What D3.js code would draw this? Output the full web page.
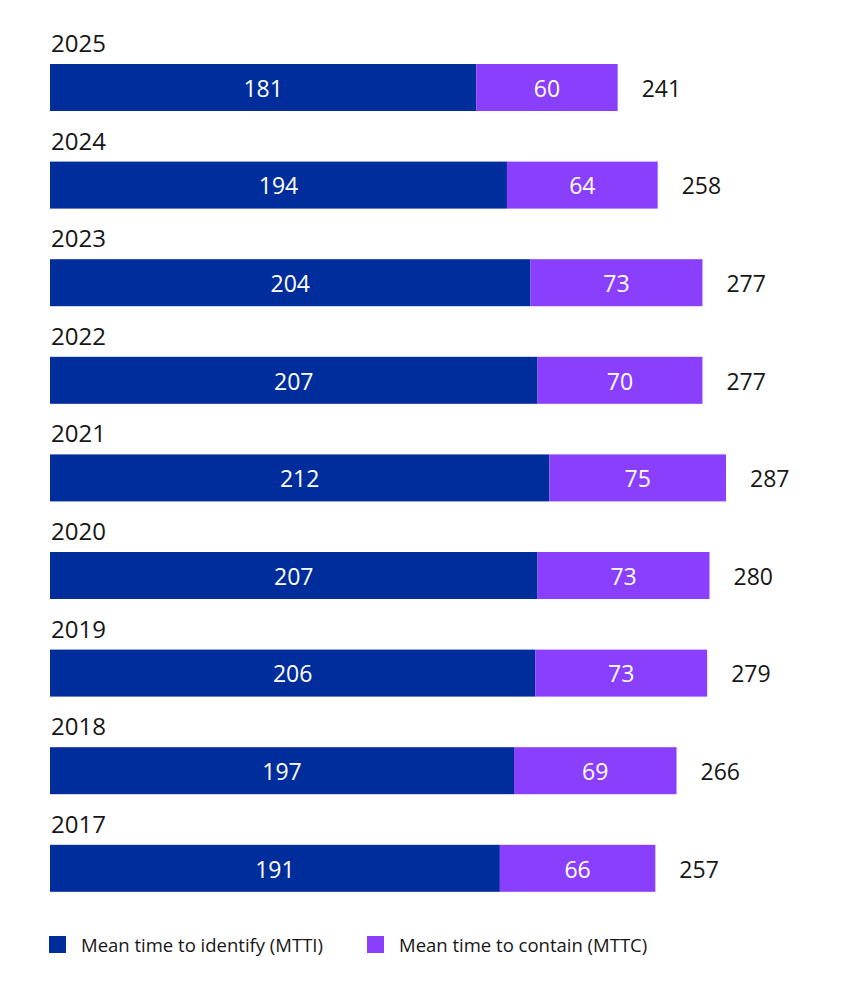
<!DOCTYPE html>
<html><head><meta charset="utf-8">
<script src="https://cdn.jsdelivr.net/npm/d3@7"></script>
<style>body{margin:0;background:#fff}svg{display:block}text{font-family:"Open Sans",sans-serif}</style>
</head><body>
<script>
const years = ["2025","2024","2023","2022","2021","2020","2019","2018","2017"];
const mtti = [181,194,204,207,212,207,206,197,191];
const mttc = [60,64,73,70,75,73,73,69,66];
const seriesNames = ["Mean time to identify (MTTI)","Mean time to contain (MTTC)"];
const colors = ["#002d9c","#8a3ffc"];

const W=849,H=1005;
const svg=d3.select("body").append("svg").attr("width",W).attr("height",H);
const x=d3.scaleLinear().domain([0,287]).range([50,726]);
const step=97.6, bh=47;
const data=years.map((yr,i)=>({yr,a:mtti[i],b:mttc[i],t:mtti[i]+mttc[i]}));
const g=svg.append("g");
const row=g.selectAll("g").data(data).join("g").attr("transform",d=>`translate(0,${64+years.indexOf(d.yr)*step})`);
row.append("text").attr("x",51).attr("y",-12).attr("font-size",24).attr("fill","#161616").text(d=>d.yr);
row.append("rect").attr("x",x(0)).attr("y",0).attr("width",d=>x(d.a)-x(0)).attr("height",bh).attr("fill",colors[0]);
row.append("rect").attr("x",d=>x(d.a)).attr("y",0).attr("width",d=>x(d.t)-x(d.a)).attr("height",bh).attr("fill",colors[1]);
row.append("text").attr("x",d=>(x(0)+x(d.a))/2).attr("y",bh/2+1).attr("dy","0.36em").attr("text-anchor","middle").attr("font-size",23).attr("fill","#fff").text(d=>d.a);
row.append("text").attr("x",d=>(x(d.a)+x(d.t))/2).attr("y",bh/2+1).attr("dy","0.36em").attr("text-anchor","middle").attr("font-size",23).attr("fill","#fff").text(d=>d.b);
row.append("text").attr("x",d=>x(d.t)+24).attr("y",bh/2+1).attr("dy","0.36em").attr("font-size",23).attr("font-weight",500).attr("fill","#161616").text(d=>d.t);

const lg=svg.append("g").attr("transform","translate(0,936)");
const lx=[49,367];
seriesNames.forEach((n,i)=>{
  lg.append("rect").attr("x",lx[i]).attr("y",0).attr("width",17).attr("height",17).attr("fill",colors[i]);
  lg.append("text").attr("x",lx[i]+32).attr("y",9).attr("dy","0.36em").attr("font-size",18.5).attr("fill","#161616").text(n);
});
</script>
</body></html>
